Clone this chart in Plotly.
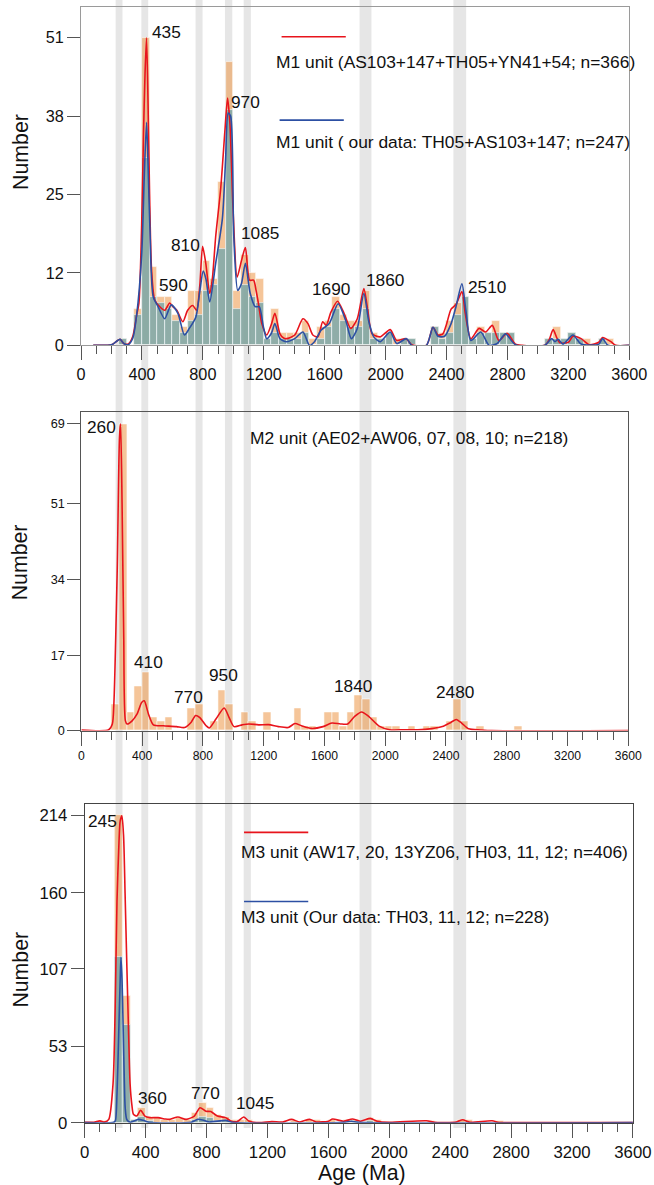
import plotly.graph_objects as go

RW, RH = 654, 1185
# rendered canvas (the page is captured at this size and scaled back to 654x1185)
W, H = 670, 1196
FS = 1.015  # font compensation for the downscale
BIN = 50
FONT = "Arial, 'Liberation Sans', sans-serif"
RED = "#E8141C"
BLUE = "#2C4FA3"
ORANGE = "rgba(236,150,70,0.55)"
TEAL = "rgba(110,165,172,0.76)"

# ---------------- Panel 1: M1 unit ----------------
m1_bins = [250, 350, 400, 450, 500, 550, 600, 650, 700, 750, 800, 850, 900, 950, 1000,
           1050, 1100, 1150, 1200, 1250, 1300, 1350, 1400, 1450, 1500, 1550, 1600, 1650,
           1700, 1750, 1800, 1850, 1900, 1950, 2000, 2050, 2100, 2150, 2300, 2350, 2400,
           2450, 2500, 2550, 2600, 2650, 2700, 2750, 2800, 3050, 3100, 3150, 3200, 3250,
           3300, 3400, 3450]
m1_all = [1, 6, 51, 13, 8, 8, 5, 3, 9, 9, 14, 11, 27, 47, 9,
          15, 12, 11, 1, 6, 2, 2, 2, 4, 1, 3, 4, 8,
          5, 4, 4, 9, 2, 1, 2, 1, 1, 1, 3, 2, 4,
          7, 8, 1, 3, 2, 4, 2, 2, 1, 3, 1, 2, 1,
          1, 1, 1]
m1_ours = [1, 5, 31, 8, 7, 6, 4, 2, 4, 5, 9, 10, 16, 39, 6,
           10, 8, 7, 1, 2, 1, 1, 1, 2, 0, 1, 3, 6,
           4, 3, 3, 6, 1, 1, 2, 0, 1, 1, 3, 1, 2,
           5, 8, 1, 2, 2, 2, 2, 2, 1, 1, 1, 2, 1,
           0, 1, 0]

m1_red_x = [80, 200, 240, 257, 280, 310, 340, 365, 380, 398, 410, 420, 430, 440, 450, 463,
            484, 517, 549, 582, 603, 629, 668, 700, 733, 759, 780, 798, 819, 845, 862, 884,
            917, 945, 962, 977, 999, 1025, 1053, 1079, 1107, 1133, 1150, 1165, 1187, 1219,
            1250, 1273, 1306, 1330, 1349, 1403, 1457, 1490, 1522, 1555, 1587, 1609, 1641,
            1684, 1727, 1771, 1814, 1857, 1883, 1911, 1965, 2030, 2073, 2134, 2171, 2268,
            2311, 2344, 2376, 2400, 2430, 2463, 2501, 2523, 2560, 2614, 2657, 2700, 2744,
            2798, 2852, 2895, 3046, 3075, 3100, 3125, 3144, 3200, 3230, 3284, 3338, 3400,
            3425, 3479, 3511, 3600]
m1_red_y = [0, 0.1, 0.8, 1.0, 0.3, 0.2, 1.5, 5, 7, 20, 35, 45, 51, 40, 25, 12.5,
            7.5, 6.4, 5.8, 7, 6.4, 5.8, 3.9, 5.8, 6.6, 5.8, 10, 16.4, 13.6, 8.6, 11, 18,
            26, 35.7, 41, 37, 22, 11.3, 14, 16.2, 10.8, 10.8, 9, 6.9, 3.6, 1.7,
            3.5, 5.3, 1.9, 1.2, 1.1, 1.7, 4.4, 3.6, 1.7, 1.4, 3.9, 3.3, 5.5,
            7.3, 5.3, 2.8, 4.4, 9.4, 5.8, 1.9, 1.4, 2.6, 0.8, 1.1, 0.1, 0,
            3, 1.7, 1.9, 3.5, 6, 6.8, 8.9, 5.3, 1.1, 2.8, 2.2, 3.3, 0.8,
            2, 0.2, 0, 0, 1, 2.6, 1.2, 0.4, 0.5, 1.5, 1.1, 0.1, 0.5,
            1.3, 0.6, 0, 0]

m1_blue_x = [80, 200, 240, 257, 280, 310, 340, 365, 398, 415, 430, 440, 452, 474, 506,
             549, 592, 636, 679, 711, 754, 780, 802, 820, 845, 884, 928, 949, 966, 982,
             1003, 1029, 1053, 1079, 1111, 1144, 1170, 1198, 1219, 1250, 1273, 1306, 1349,
             1403, 1457, 1500, 1533, 1576, 1630, 1688, 1738, 1775, 1814, 1857, 1890, 1922,
             1965, 2030, 2073, 2138, 2171, 2268, 2311, 2344, 2387, 2430, 2462, 2501, 2527,
             2560, 2625, 2679, 2733, 2787, 2852, 3046, 3090, 3112, 3133, 3165, 3230, 3284,
             3400, 3425, 3460, 3600]
m1_blue_y = [0, 0.1, 0.8, 1.0, 0.3, 0.1, 1.2, 5, 15, 28, 37, 30, 19.6, 8, 6.4,
             4.4, 6.7, 5.3, 1.7, 2.8, 4.7, 9, 12.3, 11, 7.2, 13.6, 21, 30.7, 38.5, 38,
             18, 9.1, 10.2, 13.6, 8.6, 6.4, 6.4, 3, 1.1, 2, 3.6, 1.1, 0.6,
             1.1, 2.2, 0, 0.6, 2.5, 3.6, 6.9, 4.1, 1.1, 2.8, 8.6, 3.9, 1.4,
             0.6, 2.2, 0.3, 1.1, 0, 0, 3, 1.5, 1.5, 3.6, 6.4, 10.2, 5.8,
             0.8, 2.2, 0, 0.3, 1.9, 0.1, 0, 1.1, 0.6, 1.0, 0.2, 1.7, 0.2,
             0.2, 1.1, 0, 0]

# ---------------- Panel 2: M2 unit ----------------
m2_bins = [200, 250, 300, 350, 400, 450, 500, 550, 700, 750, 850, 900, 950, 1050, 1100,
           1200, 1400, 1450, 1500, 1600, 1650, 1700, 1750, 1800, 1850, 1900, 1950, 2000,
           2050, 2150, 2250, 2300, 2400, 2450, 2500, 2600, 2850]
m2_all = [6, 69, 4, 10, 13, 3, 2, 3, 5, 6, 2, 9, 6, 4, 2,
          4, 5, 1, 1, 4, 4, 1, 4, 8, 7, 3, 1, 1,
          1, 1, 1, 1, 2, 7, 2, 1, 1]

m2_red_x = [0, 180, 204, 214, 236, 251, 258, 268, 279, 290, 301, 334, 366, 398, 414, 442,
            474, 539, 626, 680, 723, 752, 778, 821, 842, 886, 940, 972, 1005, 1059, 1102,
            1167, 1232, 1297, 1362, 1406, 1449, 1514, 1591, 1649, 1706, 1753, 1799, 1845,
            1891, 1960, 2030, 2122, 2214, 2307, 2376, 2434, 2468, 2503, 2549, 2630, 2700,
            3600]
m2_red_y = [0.15, 0.2, 1.5, 6, 36, 66, 69, 51, 21, 2.2, 1.5, 2.2, 3.7, 6.4, 6.7, 3.7,
            1.3, 1.1, 0.9, 0.7, 1.9, 3.4, 3, 1.1, 0.6, 2.6, 5.1, 3, 0.9, 1.3, 1.5,
            1.3, 1.35, 0.9, 0.7, 1.6, 1.1, 0.5, 0.9, 1.7, 1.5, 1.5, 3.2, 4.2,
            3.2, 1, 0.2, 0.2, 0.2, 0.45, 0.9, 1.9, 2.5, 1.7, 0.4, 0.15, 0,
            0]

# ---------------- Panel 3: M3 unit ----------------
m3_bins = [100, 200, 250, 300, 350, 400, 450, 500, 550, 600, 650, 700, 750, 800, 850,
           900, 950, 1000, 1050, 1350, 1450, 1500, 1600, 1700, 1750, 1850, 1900, 2250,
           2450, 2500, 2700]
m3_all = [1, 214, 88, 2, 10, 4, 3, 2, 2, 3, 2, 7, 14, 10, 5,
          4, 2, 2, 2, 1, 2, 2, 2, 2, 2, 3, 2, 1,
          2, 2, 1]
m3_ours = [0, 115, 68, 2, 4, 1, 0, 0, 0, 0, 0, 2, 4, 3, 1,
           1, 0, 0, 0, 0, 0, 0, 0, 0, 1, 1, 0, 0,
           0, 0, 0]

m3_red_x = [0, 60, 100, 130, 158, 186, 200, 212, 225, 233, 244, 255, 265, 277, 290, 298,
            310, 320, 342, 367, 395, 428, 482, 530, 558, 612, 666, 720, 757, 796, 828,
            871, 925, 958, 1001, 1044, 1077, 1142, 1228, 1300, 1358, 1412, 1477, 1520,
            1600, 1628, 1700, 1758, 1810, 1876, 1920, 2000, 2244, 2300, 2440, 2482, 2530,
            2675, 2720, 2800, 3600]
m3_red_y = [0.3, 0.3, 1.2, 0.4, 2.3, 27, 80, 154, 195, 210, 213.5, 200, 160, 108, 55, 27,
            12, 5.8, 4.6, 8.6, 4.6, 3.5, 3.5, 2.5, 2.3, 3.9, 2.3, 4.6, 10.4, 8, 7.7,
            4.6, 3.5, 1.2, 0.7, 3.9, 1.2, 0, 0.7, 0.5, 2.3, 0.5, 2.3, 0.5,
            1, 2.5, 1, 2.5, 1, 3, 1, 0.3, 1.3, 0.2, 0.5, 2, 0.3,
            1.3, 0.1, 0, 0]

m3_blue_x = [0, 190, 201, 212, 223, 233, 238, 245, 251, 260, 266, 277, 300, 352, 385,
             420, 700, 741, 774, 817, 925, 969, 1700, 1750, 1800, 3600]
m3_blue_y = [0, 0.2, 1.2, 20, 61, 100, 115, 100, 73, 30, 10, 2, 0.3, 2.3, 1.6,
             0.3, 0.3, 2.3, 1.9, 0.5, 1.6, 0.2, 0.2, 1, 0.2, 0]

# ---------------- Shared decorations ----------------
band_lo = [227, 396, 752, 945, 1068, 1829, 2445]
band_hi = [272, 441, 798, 993, 1115, 1907, 2529]

peaks1 = [("435", 564, 52.0), ("970", 1083, 40.4), ("810", 684, 16.6), ("1085", 1174, 18.6),
          ("590", 610, 10.0), ("1690", 1641, 9.4), ("1860", 1993, 10.9), ("2510", 2666, 9.6)]
peaks2 = [("260", 135, 68.2), ("410", 442, 15.5), ("770", 707, 7.6), ("950", 934, 12.6),
          ("1840", 1785, 10.1), ("2480", 2458, 8.6)]
peaks3 = [("245", 119, 210), ("360", 442, 17.4), ("770", 793, 20.9), ("1045", 1118, 13.9)]

xticks = list(range(0, 3601, 400))
yticks1 = [0, 12, 25, 38, 51]
yticks2 = [0, 17, 34, 51, 69]
yticks3 = [0, 53, 107, 160, 214]


def px_x(p):
    return p / RW


def px_y(p):
    return 1 - p / RH


def fs(s):
    return s * FS


fig = go.Figure()


def centers(bins):
    return [b + BIN / 2 for b in bins]


def add_bars(bins, vals, color, xa, ya):
    fig.add_trace(go.Bar(x=centers(bins), y=vals, width=[BIN] * len(bins),
                         marker=dict(color=color, line=dict(color="rgba(255,255,255,0.7)", width=0.8)),
                         xaxis=xa, yaxis=ya, showlegend=False, hoverinfo="skip"))


def add_line(xs, ys, color, xa, ya):
    fig.add_trace(go.Scatter(x=xs, y=ys, mode="lines",
                             line=dict(color=color, width=1.6, shape="spline", smoothing=0.7),
                             xaxis=xa, yaxis=ya, showlegend=False, hoverinfo="skip"))


add_bars(m1_bins, m1_all, ORANGE, "x", "y")
add_bars(m1_bins, m1_ours, TEAL, "x", "y")
add_line(m1_red_x, m1_red_y, RED, "x", "y")
add_line(m1_blue_x, m1_blue_y, BLUE, "x", "y")

add_bars(m2_bins, m2_all, ORANGE, "x2", "y2")
add_line(m2_red_x, m2_red_y, RED, "x2", "y2")

add_bars(m3_bins, m3_all, ORANGE, "x3", "y3")
add_bars(m3_bins, m3_ours, TEAL, "x3", "y3")
add_line(m3_red_x, m3_red_y, RED, "x3", "y3")
add_line(m3_blue_x, m3_blue_y, BLUE, "x3", "y3")


def xaxis(dom, anchor, frame, fsize):
    return dict(domain=dom, anchor=anchor, range=[0, 3600], tickmode="array", tickvals=xticks,
                ticks="outside", ticklen=14, tickwidth=1, tickcolor="#555",
                minor=dict(dtick=100, tick0=0, ticks="outside", ticklen=8, tickcolor="#555", tickwidth=1),
                showline=True, linecolor=frame, linewidth=1, mirror=True,
                showgrid=False, zeroline=False, tickfont=dict(size=fs(fsize), color="#111"))


def yaxis(dom, anchor, rng, vals, frame, fsize):
    return dict(domain=dom, anchor=anchor, range=rng, tickmode="array", tickvals=vals,
                ticks="outside", ticklen=13, tickwidth=1, tickcolor="#555",
                showline=True, linecolor=frame, linewidth=1, mirror=True,
                showgrid=False, zeroline=False, tickfont=dict(size=fs(fsize), color="#111"))


shapes = []
for lo, hi in zip(band_lo, band_hi):
    shapes.append(dict(type="rect", xref="x", yref="paper", x0=lo, x1=hi,
                       y0=px_y(1127), y1=1, fillcolor="#e6e6e6", line=dict(width=0), layer="below"))

# legend sample lines
for (x0, x1, y, c) in [(280, 345, 36.7, RED), (278, 343, 120, BLUE),
                       (242, 307, 831.7, RED), (242, 307, 900.7, BLUE)]:
    shapes.append(dict(type="line", xref="paper", yref="paper", x0=px_x(x0), x1=px_x(x1),
                       y0=px_y(y), y1=px_y(y), line=dict(color=c, width=1.6)))

ann = []
for (t, xv, yv) in peaks1:
    ann.append(dict(text=t, x=xv, y=yv, xref="x", yref="y", showarrow=False,
                    font=dict(size=fs(17), color="#111"), xanchor="center", yanchor="middle"))
for (t, xv, yv) in peaks2:
    ann.append(dict(text=t, x=xv, y=yv, xref="x2", yref="y2", showarrow=False,
                    font=dict(size=fs(17), color="#111"), xanchor="center", yanchor="middle"))
for (t, xv, yv) in peaks3:
    ann.append(dict(text=t, x=xv, y=yv, xref="x3", yref="y3", showarrow=False,
                    font=dict(size=fs(17), color="#111"), xanchor="center", yanchor="middle"))

legend_texts = [("M1 unit (AS103+147+TH05+YN41+54; n=366)", 272.5, 61.7),
                ("M1 unit ( our data: TH05+AS103+147; n=247)", 272.5, 141.7),
                ("M2 unit (AE02+AW06, 07, 08, 10; n=218)", 246, 438),
                ("M3 unit (AW17, 20, 13YZ06, TH03, 11, 12; n=406)", 236.5, 851.7),
                ("M3 unit (Our data: TH03, 11, 12; n=228)", 236.5, 916.7)]
for (t, x, y) in legend_texts:
    ann.append(dict(text=t, x=px_x(x), y=px_y(y), xref="paper", yref="paper", showarrow=False,
                    font=dict(size=fs(17.15), color="#111"), xanchor="left", yanchor="middle"))

for yc in [152, 562, 969]:
    ann.append(dict(text="Number", x=px_x(16), y=px_y(yc), xref="paper", yref="paper",
                    showarrow=False, textangle=-90, font=dict(size=fs(21), color="#111"),
                    xanchor="center", yanchor="middle"))
ann.append(dict(text="Age (Ma)", x=px_x(361), y=px_y(1172), xref="paper", yref="paper",
                showarrow=False, font=dict(size=fs(21), color="#111"), xanchor="center", yanchor="middle"))

fig.update_layout(
    width=W, height=H,
    margin=dict(l=0, r=0, t=0, b=0),
    paper_bgcolor="white", plot_bgcolor="rgba(0,0,0,0)",
    font=dict(family=FONT, color="#111"),
    barmode="overlay", bargap=0,
    showlegend=False,
    xaxis=xaxis([px_x(77), px_x(632)], "y", "#9a9a9a", 16),
    yaxis=yaxis([px_y(345), px_y(7)], "x", [0, 56.1], yticks1, "#9a9a9a", 16),
    xaxis2=xaxis([px_x(77.3), px_x(631)], "y2", "#555", 12),
    yaxis2=yaxis([px_y(730), px_y(412)], "x2", [0, 71.6], yticks2, "#555", 12.5),
    xaxis3=xaxis([px_x(80.7), px_x(635.7)], "y3", "#444", 16.5),
    yaxis3=yaxis([px_y(1121.7), px_y(803.3)], "x3", [0, 221.7], yticks3, "#444", 16.5),
    shapes=shapes, annotations=ann,
)

css = ("var s=document.createElement('style');"
       "s.textContent='html,body{margin:0;padding:0;overflow:hidden;}';"
       "document.head.appendChild(s);")
fig.write_html("out.html", config={"displayModeBar": False, "responsive": False},
               post_script=css)
